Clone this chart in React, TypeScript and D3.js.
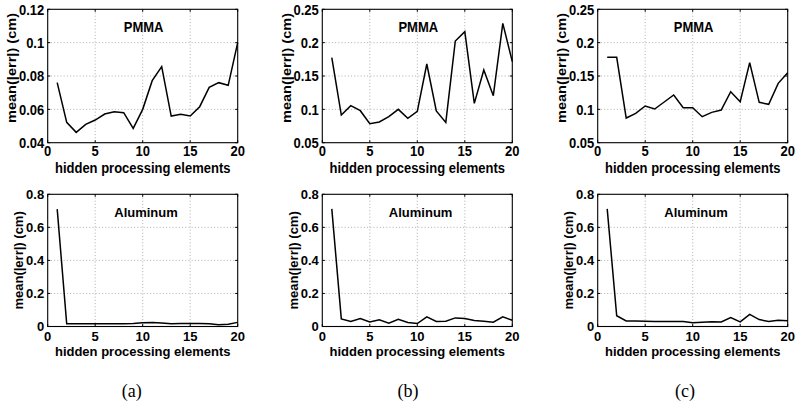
import React from "react";
import * as d3 from "d3";

const xValues = d3.range(1, 21);

const pmmaA = [0.076, 0.0522, 0.0462, 0.051, 0.0536, 0.0572, 0.0586, 0.058, 0.0486, 0.06, 0.0772, 0.0856, 0.056, 0.057, 0.056, 0.0616, 0.0732, 0.076, 0.0744, 0.1];
const pmmaB = [0.1775, 0.0915, 0.1055, 0.098, 0.0785, 0.081, 0.089, 0.1, 0.0865, 0.097, 0.168, 0.0975, 0.0805, 0.2025, 0.2165, 0.109, 0.159, 0.1205, 0.229, 0.1715];
const pmmaC = [0.178, 0.178, 0.087, 0.094, 0.105, 0.1005, 0.111, 0.1215, 0.1025, 0.1025, 0.089, 0.0955, 0.099, 0.1265, 0.1115, 0.17, 0.1105, 0.1075, 0.139, 0.155];

const aluA = [0.71, 0.016, 0.017, 0.017, 0.017, 0.017, 0.016, 0.016, 0.018, 0.022, 0.024, 0.021, 0.016, 0.018, 0.018, 0.018, 0.017, 0.011, 0.013, 0.025];
const aluB = [0.712, 0.046, 0.03, 0.048, 0.028, 0.04, 0.02, 0.044, 0.024, 0.018, 0.058, 0.03, 0.032, 0.052, 0.048, 0.036, 0.032, 0.026, 0.058, 0.038];
const aluC = [0.712, 0.065, 0.034, 0.033, 0.032, 0.031, 0.031, 0.03, 0.03, 0.022, 0.026, 0.028, 0.027, 0.054, 0.028, 0.073, 0.042, 0.03, 0.038, 0.035];

const xTicks = [0, 5, 10, 15, 20];
const yTicksA = [0.04, 0.06, 0.08, 0.1, 0.12];
const yTickLabelsA = ["0.04", "0.06", "0.08", "0.1", "0.12"];
const yTicksBC = [0.05, 0.1, 0.15, 0.2, 0.25];
const yTickLabelsBC = ["0.05", "0.1", "0.15", "0.2", "0.25"];
const yTicksAlu = [0, 0.2, 0.4, 0.6, 0.8];
const yTickLabelsAlu = ["0", "0.2", "0.4", "0.6", "0.8"];

const captions = ["(a)", "(b)", "(c)"];
const xLabel = "hidden processing elements";
const yLabel = "mean(|err|) (cm)";

const FONT = "'Liberation Sans', Arial, Helvetica, sans-serif";

type TProps = {
  x: number;
  y: number;
  sy: number;
  anchor: "start" | "middle" | "end";
  rotate?: boolean;
  dy?: string;
  children: React.ReactNode;
};

function T({ x, y, sy, anchor, rotate, dy, children }: TProps) {
  const tf = rotate
    ? `translate(${x},${y}) rotate(-90) scale(${sy},1)`
    : `translate(${x},${y}) scale(1,${sy})`;
  return (
    <text transform={tf} textAnchor={anchor} dy={dy} fontFamily={FONT} fontWeight="bold" fontSize={13} fill="#000">
      {children}
    </text>
  );
}

type PanelProps = {
  left: number;
  top: number;
  bottom: number;
  data: number[];
  yTicks: number[];
  yTickLabels: string[];
  title: string;
  titleX: number;
  ylabelOffset: number;
  ylabelY: number;
  sy: number;
  xTickDy: number;
  xLabelDy: number;
};

function Panel(p: PanelProps) {
  const { left, top, bottom, data, yTicks, yTickLabels, title, titleX, ylabelOffset, ylabelY, sy, xTickDy, xLabelDy } = p;
  const width = 190;
  const x = d3.scaleLinear().domain([0, 20]).range([left, left + width]);
  const y = d3
    .scaleLinear()
    .domain([yTicks[0], yTicks[yTicks.length - 1]])
    .range([bottom, top]);
  const line = d3
    .line<number>()
    .x((_, i) => x(xValues[i]))
    .y((d) => y(d));
  const tl = 2.5;
  return (
    <g>
      {xTicks.slice(1, -1).map((t) => (
        <line key={"gx" + t} x1={x(t)} x2={x(t)} y1={top} y2={bottom} stroke="#9a9a9a" strokeWidth={0.8} strokeDasharray="1,2.2" />
      ))}
      {yTicks.slice(1, -1).map((t) => (
        <line key={"gy" + t} x1={left} x2={left + width} y1={y(t)} y2={y(t)} stroke="#9a9a9a" strokeWidth={0.8} strokeDasharray="1,2.2" />
      ))}
      {xTicks.map((t) => (
        <g key={"tx" + t}>
          <line x1={x(t)} x2={x(t)} y1={bottom} y2={bottom - tl} stroke="#000" strokeWidth={1} />
          <line x1={x(t)} x2={x(t)} y1={top} y2={top + tl} stroke="#000" strokeWidth={1} />
          <T x={x(t)} y={bottom + xTickDy} sy={sy} anchor="middle">
            {t}
          </T>
        </g>
      ))}
      {yTicks.map((t, i) => (
        <g key={"ty" + t}>
          <line x1={left} x2={left + tl} y1={y(t)} y2={y(t)} stroke="#000" strokeWidth={1} />
          <line x1={left + width} x2={left + width - tl} y1={y(t)} y2={y(t)} stroke="#000" strokeWidth={1} />
          <T x={left - 3.5} y={y(t)} sy={sy} anchor="end" dy="0.36em">
            {yTickLabels[i]}
          </T>
        </g>
      ))}
      <rect x={left} y={top} width={width} height={bottom - top} fill="none" stroke="#000" strokeWidth={1.1} />
      <path d={line(data) || ""} fill="none" stroke="#000" strokeWidth={1.5} strokeLinejoin="miter" />
      <T x={x(titleX)} y={top + 22.5} sy={sy} anchor="middle">
        {title}
      </T>
      <T x={left + width / 2} y={bottom + xLabelDy} sy={sy} anchor="middle">
        {xLabel}
      </T>
      <T x={left - ylabelOffset} y={ylabelY} sy={sy} anchor="middle" rotate dy="0.36em">
        {yLabel}
      </T>
    </g>
  );
}

export default function App() {
  const lefts = [47.7, 322.3, 597.7];
  const captionX = [131.7, 408, 685];
  const topRow = { top: 9.3, bottom: 142.7 };
  const botRow = { top: 194.3, bottom: 326.5 };
  const pmma = [pmmaA, pmmaB, pmmaC];
  const alu = [aluA, aluB, aluC];
  return (
    <div style={{ position: "absolute", left: 0, top: 0, width: 800, height: 408, background: "#fff" }}>
      <svg width={800} height={408} style={{ display: "block" }}>
        <rect width={800} height={408} fill="#fff" />
        {lefts.map((l, i) => (
          <Panel
            key={"p" + i}
            left={l}
            top={topRow.top}
            bottom={topRow.bottom}
            data={pmma[i]}
            yTicks={i === 0 ? yTicksA : yTicksBC}
            yTickLabels={i === 0 ? yTickLabelsA : yTickLabelsBC}
            title="PMMA"
            titleX={10.1}
            ylabelOffset={36}
            ylabelY={68}
            sy={1.12}
            xTickDy={13.3}
            xLabelDy={30}
          />
        ))}
        {lefts.map((l, i) => (
          <Panel
            key={"a" + i}
            left={l}
            top={botRow.top}
            bottom={botRow.bottom}
            data={alu[i]}
            yTicks={yTicksAlu}
            yTickLabels={yTickLabelsAlu}
            title="Aluminum"
            titleX={10.35}
            ylabelOffset={29}
            ylabelY={(botRow.top + botRow.bottom) / 2}
            sy={1}
            xTickDy={14}
            xLabelDy={29.5}
          />
        ))}
        {captions.map((c, i) => (
          <text key={c} x={captionX[i]} y={397} textAnchor="middle" fontFamily="'Liberation Serif', 'DejaVu Serif', serif" fontSize={18}>
            {c}
          </text>
        ))}
      </svg>
    </div>
  );
}
